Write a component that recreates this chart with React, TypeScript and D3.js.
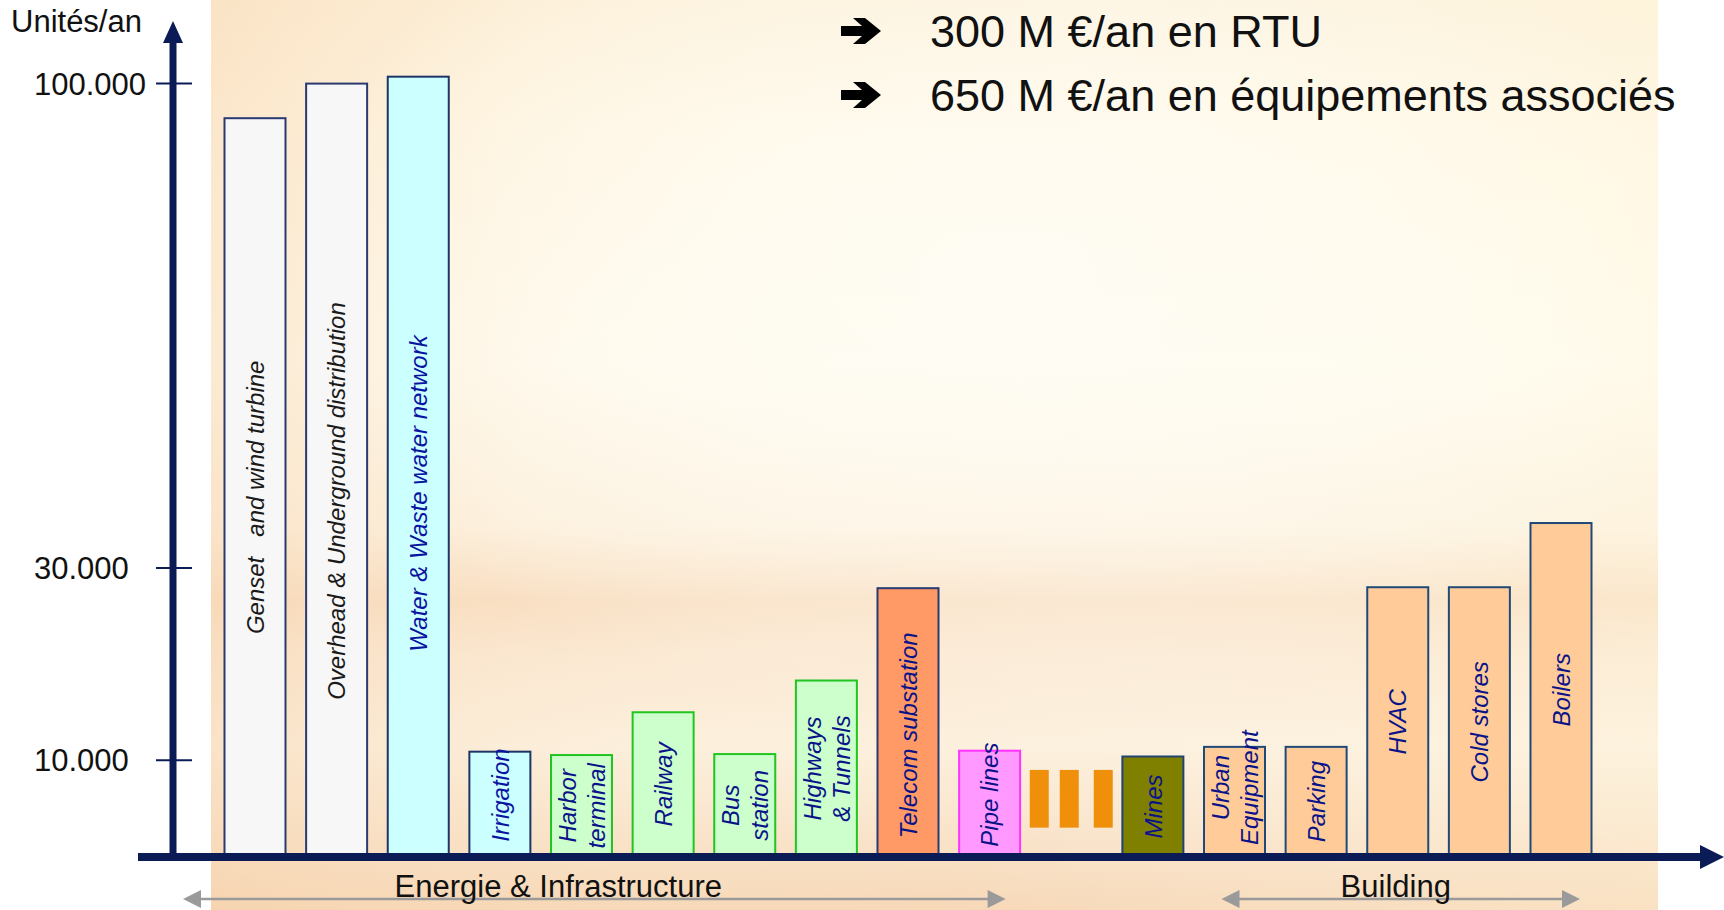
import React from 'react';
import * as d3 from 'd3';

// ---------- data ----------
const categories = [
  'Genset', 'Overhead', 'Water', 'Irrigation', 'Harbor', 'Railway', 'Bus',
  'Highways', 'Telecom', 'Pipe', 'Etc', 'Mines', 'Urban', 'Parking', 'HVAC',
  'Cold', 'Boilers',
];
const barLabels: string[][] = [
  ['Genset   and wind turbine'],
  ['Overhead & Underground distribution'],
  ['Water & Waste water network'],
  ['Irrigation'],
  ['Harbor', 'terminal'],
  ['Railway'],
  ['Bus', 'station'],
  ['Highways', '& Tunnels'],
  ['Telecom substation'],
  ['Pipe lines'],
  [],
  ['Mines'],
  ['Urban', 'Equipment'],
  ['Parking'],
  ['HVAC'],
  ['Cold stores'],
  ['Boilers'],
];
const unitsPerYear: (number | null)[] = [
  95000, 100000, 101000, 10900, 10550, 15000, 10650, 18300, 27900, 11000,
  null, 10400, 11400, 11400, 28000, 28000, 36500,
];
const sectors = [
  'grid', 'grid', 'water', 'water', 'transport', 'transport', 'transport',
  'transport', 'telecom', 'pipe', 'etc', 'mines', 'building', 'building',
  'building', 'building', 'building',
];
const ellipsisRange = [3000, 9000];
const yTicks = [10000, 30000, 100000];
const yTickLabels = ['10.000', '30.000', '100.000'];
const yTitle = 'Unités/an';
const headlines = ['300 M €/an en RTU', '650 M €/an en équipements associés'];
const groupNames = ['Energie & Infrastructure', 'Building'];
const groupFrom = ['Genset', 'Urban'];
const groupTo = ['Pipe', 'Boilers'];

// ---------- styles / layout ----------
const NAVY = '#0b1b55';
const FONT = '"Liberation Sans", Arial, sans-serif';
const sectorStyle: Record<string, { fill: string; stroke: string; text: string }> = {
  grid: { fill: '#f7f7f7', stroke: '#2a3a70', text: '#1a1a1a' },
  water: { fill: '#ccffff', stroke: '#1f3466', text: '#0a14a0' },
  transport: { fill: '#ccffcc', stroke: '#22c422', text: '#0a1488' },
  telecom: { fill: '#ff9966', stroke: '#2a3a70', text: '#0a1488' },
  pipe: { fill: '#ff99ff', stroke: '#ff33ff', text: '#0a1488' },
  etc: { fill: '#f0900a', stroke: 'none', text: '#000' },
  mines: { fill: '#808000', stroke: '#1f4470', text: '#0a1488' },
  building: { fill: '#ffcc99', stroke: '#1f4a78', text: '#0a1488' },
};
// vertical nudge of each in-bar label (px, downwards)
const labelNudge = [10, 31, 27, -9, 0, 0, 0, 0, 13, -9, 0, 0, -14, 0, 0, 0, 0];

const W = 1724;
const H = 910;
const AXIS_X = 173;
const AXIS_Y = 857;
const BAR_W = 61;

export default function App() {
  const y = d3.scaleLinear().domain([0, 30000, 100000]).range([856.5, 568, 83.6]);
  const x = d3.scalePoint<string>().domain(categories).range([255, 1561]);

  const groupPad = [
    [-72, 16],
    [-13, 19],
  ];
  const groupTextDx = [-36, -5];

  const arrowPts = (cx: number, cy: number) =>
    [
      [0, -5], [21, -5], [12, -13], [24, -13], [40, 0], [24, 13], [12, 13], [21, 5], [0, 5],
    ]
      .map(([px, py]) => `${cx + px},${cy + py}`)
      .join(' ');

  return (
    <div style={{ position: 'absolute', left: 0, top: 0 }}>
      <svg width={W} height={H} viewBox={`0 0 ${W} ${H}`} style={{ display: 'block', background: '#fff' }}>
        <defs>
          <linearGradient id="bgV" x1="0" y1="0" x2="0" y2="1">
            <stop offset="0" stopColor="#fdf1da" />
            <stop offset="0.14" stopColor="#fff7e4" />
            <stop offset="0.4" stopColor="#fffbee" />
            <stop offset="0.58" stopColor="#fdf2e0" />
            <stop offset="0.66" stopColor="#f9e0c4" />
            <stop offset="0.72" stopColor="#fbe9d3" />
            <stop offset="0.82" stopColor="#fcf0dd" />
            <stop offset="0.92" stopColor="#f9e3c9" />
            <stop offset="1" stopColor="#f7d8b7" />
          </linearGradient>
          <linearGradient id="bgH" x1="0" y1="0" x2="1" y2="0">
            <stop offset="0" stopColor="#f6cfa6" stopOpacity="0.4" />
            <stop offset="0.22" stopColor="#f8d8b6" stopOpacity="0.1" />
            <stop offset="0.5" stopColor="#fff" stopOpacity="0" />
            <stop offset="1" stopColor="#fff7dc" stopOpacity="0.3" />
          </linearGradient>
          <radialGradient id="bgGlow" cx="0.55" cy="0.3" r="0.5">
            <stop offset="0" stopColor="#fffdf6" stopOpacity="0.8" />
            <stop offset="1" stopColor="#fffdf6" stopOpacity="0" />
          </radialGradient>
        </defs>

        {/* background picture */}
        <rect x={211} y={0} width={1447} height={H} fill="url(#bgV)" />
        <rect x={211} y={0} width={1447} height={H} fill="url(#bgH)" />
        <rect x={211} y={0} width={1447} height={H} fill="url(#bgGlow)" />

        {/* bars */}
        {categories.map((c, i) => {
          const v = unitsPerYear[i];
          const st = sectorStyle[sectors[i]];
          const cx = x(c)!;
          if (v == null) {
            const y0 = y(ellipsisRange[1]);
            const y1 = y(ellipsisRange[0]);
            return (
              <g key={c}>
                {[-32, -2, 32].map((dx) => (
                  <rect key={dx} x={cx + dx - 9.5} y={y0} width={19} height={y1 - y0} fill={st.fill} />
                ))}
              </g>
            );
          }
          return (
            <rect
              key={c}
              x={cx - BAR_W / 2}
              y={y(v)}
              width={BAR_W}
              height={y(0) - y(v)}
              fill={st.fill}
              stroke={st.stroke}
              strokeWidth={2}
            />
          );
        })}

        {/* bar labels */}
        {categories.map((c, i) => {
          const v = unitsPerYear[i];
          const lines = barLabels[i];
          if (v == null || lines.length === 0) return null;
          const st = sectorStyle[sectors[i]];
          const cx = x(c)!;
          const cy = (y(v) + y(0)) / 2 + labelNudge[i];
          const gap = 29;
          return (
            <g key={c} transform={`translate(${cx},${cy}) rotate(-90)`}>
              {lines.map((ln, j) => (
                <text
                  key={j}
                  x={0}
                  y={(j - (lines.length - 1) / 2) * gap}
                  dy="0.36em"
                  textAnchor="middle"
                  fontFamily={FONT}
                  fontStyle="italic"
                  fontSize={24}
                  fill={st.text}
                  style={{ whiteSpace: 'pre' }}
                >
                  {ln}
                </text>
              ))}
            </g>
          );
        })}

        {/* axes */}
        <line x1={138} y1={AXIS_Y} x2={1702} y2={AXIS_Y} stroke={NAVY} strokeWidth={8} />
        <polygon points={`1700,845 1724,${AXIS_Y} 1700,869`} fill={NAVY} />
        <line x1={AXIS_X} y1={AXIS_Y + 4} x2={AXIS_X} y2={40} stroke={NAVY} strokeWidth={7} />
        <polygon points={`163,43 ${AXIS_X},21 183,43`} fill={NAVY} />

        {/* y ticks */}
        {yTicks.map((t, i) => (
          <g key={t}>
            <line x1={156} x2={192} y1={y(t)} y2={y(t)} stroke={NAVY} strokeWidth={2} />
            <text
              x={34}
              y={y(t)}
              dy="0.36em"
              textAnchor="start"
              fontFamily={FONT}
              fontSize={31}
              fill="#111"
            >
              {yTickLabels[i]}
            </text>
          </g>
        ))}
        <text x={11} y={32} fontFamily={FONT} fontSize={31} fill="#111">
          {yTitle}
        </text>

        {/* headlines */}
        {headlines.map((h, i) => (
          <g key={h}>
            <polygon points={arrowPts(841, 31 + i * 64)} fill="#000" />
            <text x={930} y={47 + i * 64} fontFamily={FONT} fontSize={45} fill="#111">
              {h}
            </text>
          </g>
        ))}

        {/* groups */}
        {groupNames.map((g, i) => {
          const x1 = x(groupFrom[i])! + groupPad[i][0];
          const x2 = x(groupTo[i])! + groupPad[i][1];
          const ay = 899;
          return (
            <g key={g}>
              <line x1={x1 + 16} x2={x2 - 16} y1={ay} y2={ay} stroke="#9a9a9a" strokeWidth={2.5} />
              <polygon points={`${x1},${ay} ${x1 + 18},${ay - 9} ${x1 + 18},${ay + 9}`} fill="#9a9a9a" />
              <polygon points={`${x2},${ay} ${x2 - 18},${ay - 9} ${x2 - 18},${ay + 9}`} fill="#9a9a9a" />
              <text
                x={(x1 + x2) / 2 + groupTextDx[i]}
                y={897}
                textAnchor="middle"
                fontFamily={FONT}
                fontSize={31}
                fill="#111"
              >
                {g}
              </text>
            </g>
          );
        })}
      </svg>
    </div>
  );
}
